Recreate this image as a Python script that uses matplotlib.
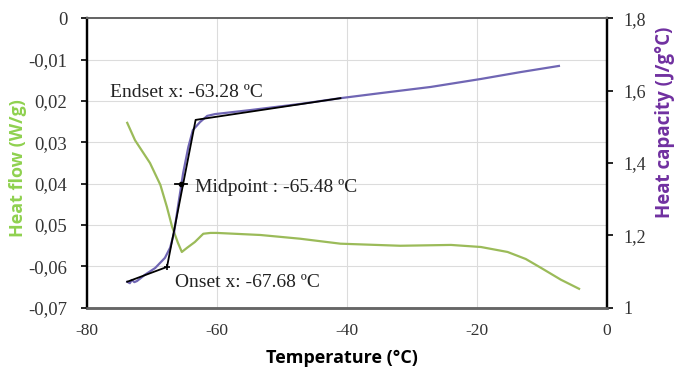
import matplotlib
matplotlib.use("Agg")
import matplotlib.pyplot as plt

# Heat flow curve (W/g) vs temperature (°C)
hf_temp = [-73.8, -72.6, -70.3, -68.7, -67.7, -66.9, -66.0, -65.4, -64.6, -63.4,
           -62.1, -61.0, -60.0, -53.3, -47.2, -41.0, -31.8, -24.0, -19.4, -15.3,
           -12.5, -10.2, -7.1, -4.3]
hf_vals = [-0.0253, -0.0295, -0.0350, -0.0403, -0.0456, -0.0504, -0.0543, -0.0565,
           -0.0555, -0.0541, -0.0521, -0.0519, -0.0519, -0.0524, -0.0533, -0.0545,
           -0.0550, -0.0548, -0.0553, -0.0565, -0.0582, -0.0603, -0.0632, -0.0654]

# Heat capacity curve (J/g°C) vs temperature (°C)
cp_temp = [-73.8, -73.4, -73.1, -72.7, -72.3, -71.1, -69.5, -68.0, -67.2, -66.6,
           -66.0, -65.2, -64.4, -63.7, -62.6, -61.5, -60.3, -54.9, -47.2, -41.0,
           -34.8, -27.1, -19.4, -13.3, -7.4]
cp_vals = [1.072, 1.068, 1.077, 1.071, 1.074, 1.091, 1.110, 1.138, 1.166, 1.207,
           1.279, 1.372, 1.444, 1.491, 1.513, 1.530, 1.535, 1.546, 1.563, 1.579,
           1.593, 1.610, 1.632, 1.651, 1.668]

# Glass transition construction
onset_t, mid_t, end_t = -67.68, -65.48, -63.28
tangent_temp = [-73.8, onset_t, end_t, -41.0]
tangent_cp = [1.072, 1.113, 1.519, 1.579]
mid_cp = 1.342

x_ticks = [-80, -60, -40, -20, 0]
hf_ticks = [0, -0.01, -0.02, -0.03, -0.04, -0.05, -0.06, -0.07]
hf_labels = ["0", "-0,01", "0,02", "0,03", "0,04", "0,05", "-0,06", "-0,07"]
cp_ticks = [1.0, 1.2, 1.4, 1.6, 1.8]
cp_labels = ["1", "1,2", "1,4", "1,6", "1,8"]

green = "#9bbb59"
purple = "#7066b4"
serif = ["Liberation Serif", "DejaVu Serif"]
sans = ["Open Sans", "DejaVu Sans"]

fig = plt.figure(figsize=(6.79, 3.70), dpi=100)
ax = fig.add_axes([0.128, 0.168, 0.766, 0.783])
ax2 = ax.twinx()

ax.set_xlim(-80, 0)
ax.set_ylim(-0.07, 0)
ax2.set_ylim(1.0, 1.8)

ax.set_xticks(x_ticks)
ax.set_xticklabels([str(t) for t in x_ticks], family=serif, fontsize=12.5, color="#333333")
ax.set_yticks(hf_ticks)
ax.set_yticklabels(hf_labels, family=serif, fontsize=13.5, color="#333333")
ax2.set_yticks(cp_ticks)
ax2.set_yticklabels(cp_labels, family=serif, fontsize=13, color="#333333")

ax.grid(True, color="#dcdcdc", linewidth=0.8)
ax.set_axisbelow(True)
ax.tick_params(axis="x", length=0, pad=11)
ax.tick_params(axis="y", length=4, width=1.2, color="black", direction="out", pad=10)
ax2.tick_params(axis="y", length=4, width=1.2, color="black", direction="out", pad=8)

for a in (ax, ax2):
    a.spines["left"].set_linewidth(1.6)
    a.spines["left"].set_color("black")
    a.spines["right"].set_linewidth(1.6)
    a.spines["right"].set_color("black")
    a.spines["top"].set_linewidth(1.4)
    a.spines["top"].set_color("#666666")
    a.spines["bottom"].set_linewidth(1.8)
    a.spines["bottom"].set_color("#666666")

ax.plot(hf_temp, hf_vals, color=green, linewidth=1.6)
ax2.plot(cp_temp, cp_vals, color=purple, linewidth=1.6)
ax2.plot(tangent_temp, tangent_cp, color="black", linewidth=1.3)
ax2.plot([mid_t - 0.9, mid_t + 0.9], [mid_cp, mid_cp], color="black", linewidth=1.3)
ax2.plot([mid_t], [mid_cp], marker="o", color="black", markersize=3)
ax2.plot([onset_t], [1.113], marker="+", color="black", markersize=5, mew=1.2)

ax2.text(-76.5, 1.596, "Endset x: -63.28 ºC", family=serif, fontsize=14, color="#222222",
         va="center", ha="left")
ax2.text(-63.4, 1.331, "Midpoint : -65.48 ºC", family=serif, fontsize=14, color="#222222",
         va="center", ha="left")
ax2.text(-66.4, 1.069, "Onset x: -67.68 ºC", family=serif, fontsize=14, color="#222222",
         va="center", ha="left")

# Axis titles
fig.text(342 / 679, 1 - 358 / 370, "Temperature (°C)", family=sans, fontweight="bold",
         fontsize=13, ha="center", va="center")
fig.text(18 / 679, 1 - 168 / 370, "Heat flow (W/g)", family=sans, fontweight="bold",
         fontsize=13, color="#8fd14f", rotation=90, ha="center", va="center")
fig.text(665 / 679, 1 - 122 / 370, "Heat capacity (J/g°C)", family=sans, fontweight="bold",
         fontsize=13.5, color="#7030a0", rotation=90, ha="center", va="center")

fig.savefig("out.png", dpi=100)
